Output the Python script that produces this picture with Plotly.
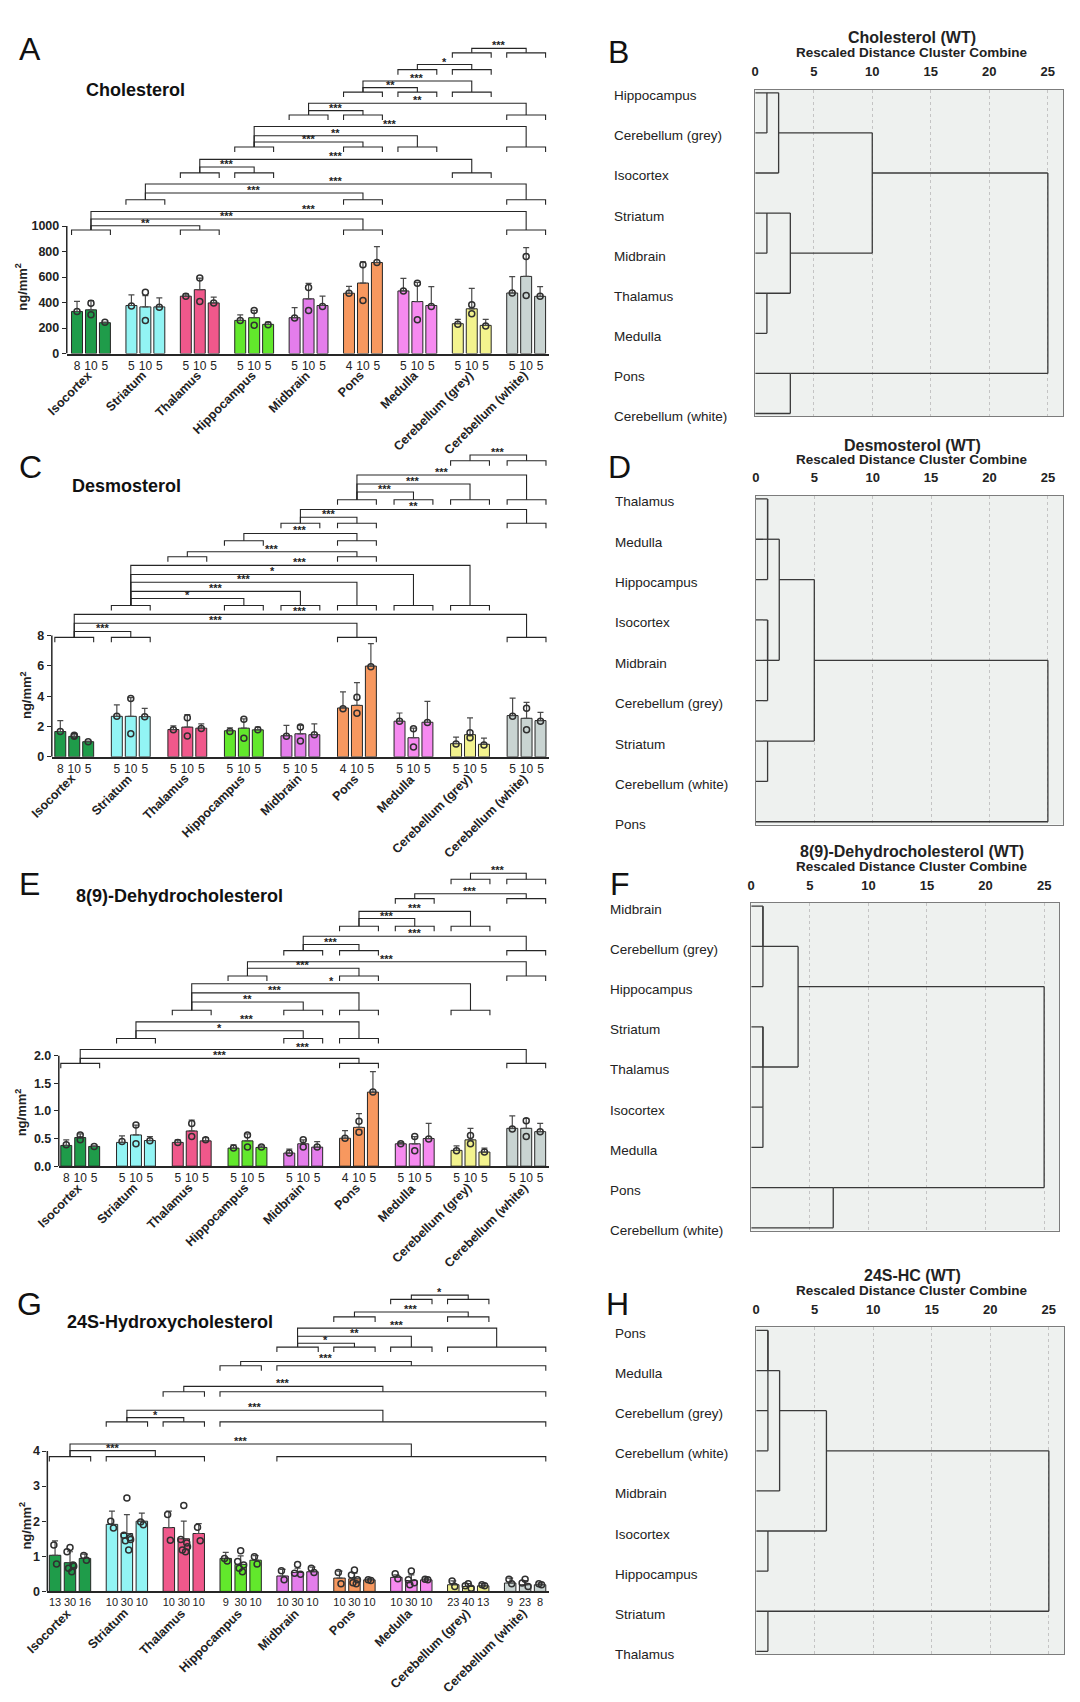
import plotly.graph_objects as go

W, H = 1080, 1702
FONT = "Liberation Sans, Arial, Helvetica, sans-serif"
INK = "#262626"

# ---------------------------------------------------------------- data
REGIONS = ["Isocortex", "Striatum", "Thalamus", "Hippocampus", "Midbrain",
           "Pons", "Medulla", "Cerebellum (grey)", "Cerebellum (white)"]
BAR_COLORS = ["#1f9c4a", "#92f4f4", "#f0588b", "#62e82c", "#e47deb",
              "#f7985f", "#f68af0", "#f3f38e", "#c9d4d2"]

N_STEROL = [[8, 10, 5], [5, 10, 5], [5, 10, 5], [5, 10, 5], [5, 10, 5],
            [4, 10, 5], [5, 10, 5], [5, 10, 5], [5, 10, 5]]
N_24S = [[13, 30, 16], [10, 30, 10], [10, 30, 10], [9, 30, 10], [10, 30, 10],
         [10, 30, 10], [10, 30, 10], [23, 40, 13], [9, 23, 8]]

# A: Cholesterol (ng/mm2)
CHOL_MEAN = [[330, 343, 242], [377, 366, 366], [450, 501, 397], [260, 281, 229], [281, 429, 377],
             [473, 553, 714], [491, 408, 377], [234, 351, 221], [475, 605, 449]]
CHOL_SD = [[80, 72, 5], [83, 89, 70], [18, 91, 45], [44, 57, 18], [80, 122, 73],
           [54, 166, 125], [99, 150, 148], [34, 161, 47], [128, 226, 76]]
CHOL_PTS = [[[330], [395, 304], [245]], [[372], [480, 260], [364]], [[450], [592, 408], [397]],
            [[260], [338, 221], [226]], [[278], [519, 338], [369]], [[473], [696, 416], [714]],
            [[491], [551, 265], [369]], [[229], [382, 312], [216]], [[475], [761, 455], [449]]]

# C: Desmosterol
DESM_MEAN = [[1.67, 1.35, 1.0], [2.67, 2.67, 2.65], [1.8, 1.96, 1.89], [1.72, 1.89, 1.78], [1.39, 1.52, 1.46],
             [3.22, 3.39, 5.98], [2.35, 1.26, 2.28], [0.87, 1.46, 0.83], [2.72, 2.54, 2.39]]
DESM_SD = [[0.72, 0.17, 0.04], [0.76, 1.23, 0.55], [0.24, 0.82, 0.28], [0.19, 0.61, 0.18], [0.68, 0.55, 0.71],
           [1.06, 1.5, 1.48], [0.54, 0.63, 1.37], [0.43, 1.11, 0.41], [1.15, 1.05, 0.54]]
DESM_PTS = [[[1.67], [1.42, 1.36], [1.0]], [[2.67], [3.85, 1.52], [2.65]], [[1.78], [2.57, 1.37], [1.87]],
            [[1.67], [2.48, 1.22], [1.78]], [[1.35], [1.96, 1.04], [1.46]], [[3.17], [3.93, 2.87], [5.93]],
            [[2.35], [1.85, 0.65], [2.26]], [[0.85], [1.59, 1.26], [0.78]], [[2.67], [3.2, 1.78], [2.35]]]

# E: 8(9)-Dehydrocholesterol
DHC_MEAN = [[0.375, 0.518, 0.357], [0.43, 0.565, 0.464], [0.43, 0.637, 0.458], [0.327, 0.458, 0.339],
            [0.238, 0.405, 0.345], [0.506, 0.702, 1.34], [0.405, 0.405, 0.5], [0.286, 0.476, 0.256],
            [0.685, 0.685, 0.625]]
DHC_SD = [[0.10, 0.065, 0.012], [0.118, 0.179, 0.072], [0.046, 0.196, 0.06], [0.06, 0.125, 0.03],
          [0.072, 0.071, 0.10], [0.137, 0.25, 0.37], [0.025, 0.131, 0.274], [0.083, 0.209, 0.071],
          [0.225, 0.178, 0.149]]
DHC_PTS = [[[0.387], [0.565, 0.476], [0.357]], [[0.446], [0.744, 0.405], [0.458]], [[0.43], [0.774, 0.536], [0.476]],
           [[0.327], [0.565, 0.345], [0.345]], [[0.238], [0.476, 0.345], [0.345]], [[0.506], [0.815, 0.613], [1.34]],
           [[0.405], [0.536, 0.28], [0.494]], [[0.28], [0.554, 0.405], [0.256]], [[0.673], [0.821, 0.536], [0.625]]]

# G: 24S-Hydroxycholesterol
HC_MEAN = [[1.03, 0.82, 0.94], [1.91, 1.65, 2.0], [1.82, 1.5, 1.65], [0.94, 0.77, 0.89], [0.44, 0.54, 0.56],
           [0.38, 0.36, 0.33], [0.4, 0.31, 0.33], [0.19, 0.14, 0.16], [0.24, 0.19, 0.19]]
HC_SD = [[0.41, 0.31, 0.12], [0.38, 0.54, 0.23], [0.47, 0.5, 0.28], [0.17, 0.24, 0.13], [0.19, 0.12, 0.13],
         [0.2, 0.16, 0.03], [0.07, 0.16, 0.05], [0.11, 0.08, 0.06], [0.14, 0.12, 0.05]]
HC_PTS = [[[1.32, 0.78], [1.25, 1.13, 0.75, 0.66, 0.56, 0.72], [1.02, 0.89]],
          [[2.0, 1.81], [2.66, 1.6, 1.53, 1.44, 1.18, 1.48], [1.98, 1.9]],
          [[2.19, 1.46], [2.45, 1.48, 1.38, 1.18, 1.13, 1.27], [1.83, 1.44]],
          [[0.94, 0.87], [1.16, 0.85, 0.75, 0.66, 0.56], [0.99, 0.78]],
          [[0.59, 0.33], [0.77, 0.52, 0.49], [0.66, 0.54]],
          [[0.54, 0.22], [0.61, 0.47, 0.33, 0.25, 0.22], [0.33, 0.31]],
          [[0.5, 0.36], [0.58, 0.33, 0.25, 0.19], [0.35, 0.33]],
          [[0.3, 0.14], [0.22, 0.16, 0.09], [0.19, 0.16]],
          [[0.35, 0.22], [0.35, 0.24, 0.14], [0.22, 0.19]]]

# significance brackets: (bracket level, groups bracketed, [(from, to, connector level, label)])
CHOL_SIG = [
    (2359, [7, 8], [(7, 8, 2394, "***")]),
    (2227, [6, 7], [(6, 7, 2267, "*")]),
    (2051, [5, 6, 7], [(5, 7, 2138, "***"), (5, 6, 2086, "**")]),
    (1871, [4, 5, 8], [(4, 8, 1964, "**"), (4, 5, 1906, "***")]),
    (1620, [3, 5, 6, 8], [(3, 8, 1781, "***"), (3, 6, 1708, "**"), (3, 5, 1660, "***")]),
    (1417, [2, 3, 7], [(2, 7, 1523, "***"), (2, 3, 1463, "***")]),
    (1206, [1, 5, 8], [(1, 8, 1330, "***"), (1, 5, 1259, "***")]),
    (969, [0, 2, 5, 8], [(0, 8, 1114, "***"), (0, 5, 1055, "***"), (0, 2, 1003, "**")]),
]
DESM_SIG = [
    (19.50, [7, 8], [(7, 8, 19.88, "***")]),
    (16.93, [5, 6, 7, 8], [(5, 8, 18.56, "***"), (5, 7, 17.97, "***"), (5, 6, 17.44, "***")]),
    (15.38, [4, 5, 8], [(4, 8, 16.29, "**"), (4, 5, 15.78, "***")]),
    (14.23, [3, 5], [(3, 5, 14.71, "***")]),
    (13.18, [2, 5], [(2, 5, 13.51, "***")]),
    (9.97, [1, 3, 4, 5, 6, 7], [(1, 7, 12.61, "***"), (1, 6, 12.01, "*"), (1, 5, 11.50, "***"),
                                (1, 4, 10.90, "***"), (1, 3, 10.43, "*")]),
    (7.87, [0, 1, 5, 8], [(0, 8, 9.38, "***"), (0, 5, 8.80, "***"), (0, 1, 8.26, "***")]),
]
DHC_SIG = [
    (5.19, [7, 8], [(7, 8, 5.30, "***")]),
    (4.84, [6, 8], [(6, 8, 4.93, "***")]),
    (4.34, [5, 6, 7], [(5, 7, 4.61, "***"), (5, 6, 4.48, "***")]),
    (3.90, [4, 5, 8], [(4, 8, 4.16, "***"), (4, 5, 4.01, "***")]),
    (3.44, [3, 5, 8], [(3, 8, 3.70, "***"), (3, 5, 3.58, "***")]),
    (2.82, [2, 4, 5, 7], [(2, 7, 3.30, "*"), (2, 5, 3.135, "***"), (2, 4, 2.97, "**")]),
    (2.31, [1, 4, 5], [(1, 5, 2.61, "***"), (1, 4, 2.45, "*")]),
    (1.86, [0, 5, 8], [(0, 8, 2.11, "***"), (0, 5, 1.95, "***")]),
]
HC_SIG = [
    (8.32, [6, 7], [(6, 7, 8.44, "*")]),
    (7.82, [5, 7], [(5, 7, 7.96, "***")]),
    (6.96, [4, 5, 6, (7, 8)], [(4, (7, 8), 7.50, "***"), (4, 6, 7.27, "**"), (4, 5, 7.07, "*")]),
    (6.43, [3, (4, 8)], [(3, (4, 8), 6.55, "***")]),
    (5.69, [2, (3, 8)], [(2, (3, 8), 5.84, "***")]),
    (4.83, [1, 2, (3, 8)], [(1, (3, 8), 5.16, "***"), (1, 2, 4.95, "*")]),
    (3.84, [0, (1, 2), (4, 8)], [(0, (4, 8), 4.20, "***"), (0, (1, 2), 4.01, "***")]),
]

# dendrograms: leaf order and merges (cluster a, cluster b, rescaled distance)
B_LEAVES = ["Hippocampus", "Cerebellum (grey)", "Isocortex", "Striatum", "Midbrain",
            "Thalamus", "Medulla", "Pons", "Cerebellum (white)"]
B_MERGES = [(0, 1, 1), (3, 4, 1), (5, 6, 1), (9, 2, 2), (10, 11, 3), (7, 8, 3), (12, 13, 10), (15, 14, 25)]
D_LEAVES = ["Thalamus", "Medulla", "Hippocampus", "Isocortex", "Midbrain",
            "Cerebellum (grey)", "Striatum", "Cerebellum (white)", "Pons"]
D_MERGES = [(0, 1, 1), (9, 2, 1), (3, 4, 1), (11, 5, 1), (6, 7, 1), (10, 12, 2), (14, 13, 5), (15, 8, 25)]
F_LEAVES = ["Midbrain", "Cerebellum (grey)", "Hippocampus", "Striatum", "Thalamus",
            "Isocortex", "Medulla", "Pons", "Cerebellum (white)"]
F_MERGES = [(0, 1, 1), (9, 2, 1), (3, 4, 1), (5, 6, 1), (11, 12, 1), (10, 13, 4), (7, 8, 7), (14, 15, 25)]
H_LEAVES = ["Pons", "Medulla", "Cerebellum (grey)", "Cerebellum (white)", "Midbrain",
            "Isocortex", "Hippocampus", "Striatum", "Thalamus"]
H_MERGES = [(0, 1, 1), (2, 3, 1), (9, 10, 1), (11, 4, 2), (5, 6, 1), (12, 13, 6), (7, 8, 1), (14, 15, 25)]
DIST_TICKS = [0, 5, 10, 15, 20, 25]

# ---------------------------------------------------------------- helpers
fig = go.Figure()
ANN = []
SHAPES = []
LAYOUT = {}


def xp(x):
    return x / W


def yp(y):
    return 1 - y / H


def letter(txt, x, y):
    ANN.append(dict(text=txt, x=xp(x), y=yp(y), xref="paper", yref="paper", showarrow=False,
                    xanchor="left", yanchor="middle", font=dict(family=FONT, size=32, color="#111")))


def bar_panel(k, title, means, sds, pts, ns, sig, yticks, yticktext, geom, spread):
    sfx = "" if k == 1 else str(k)
    xa, ya = "x" + sfx, "y" + sfx
    (x0px, x1px, left0, step, bstep, bwpx, nfont, y0, ppu, toppx,
     title_xy, ylab_xy, let_xy, let) = geom
    su = step / bstep
    bw = bwpx / bstep

    def bx(g, j):
        return g * su + j

    xs, ys, es, cols, tv, tt = [], [], [], [], [], []
    for g in range(9):
        for j in range(3):
            xs.append(bx(g, j)); ys.append(means[g][j]); es.append(sds[g][j])
            cols.append(BAR_COLORS[g]); tv.append(bx(g, j)); tt.append(str(ns[g][j]))
    fig.add_trace(go.Bar(x=xs, y=ys, width=bw, xaxis=xa, yaxis=ya, showlegend=False, hoverinfo="skip",
                         marker=dict(color=cols, line=dict(color=INK, width=1)),
                         error_y=dict(type="data", symmetric=False, array=es, arrayminus=[0] * len(es),
                                      color="#4a4a4a", thickness=1.2, width=3)))
    offs_many = [0.0, -0.2, 0.2, -0.1, 0.12, 0.25]
    pxs, pys = [], []
    for g in range(9):
        for j in range(3):
            vals = pts[g][j]
            for i, v in enumerate(vals):
                o = 0.0
                if spread:
                    o = offs_many[i % len(offs_many)] if len(vals) > 2 else (-0.08 if i == 0 else 0.1)
                pxs.append(bx(g, j) + o); pys.append(v)
    fig.add_trace(go.Scatter(x=pxs, y=pys, mode="markers", xaxis=xa, yaxis=ya, showlegend=False,
                             hoverinfo="skip",
                             marker=dict(symbol="circle-open", size=6, color="#303030",
                                         line=dict(width=1.5, color="#303030"))))
    # brackets
    leg = 5.0 / ppu

    def norm(s):
        return s if isinstance(s, tuple) else (s, s)

    def edges(s):
        lo, hi = norm(s)
        return bx(lo, 0) - bw / 2, bx(hi, 2) + bw / 2

    lx, ly = [], []
    for base, groups, comps in sig:
        for s in groups:
            l, r = edges(s)
            lx += [l, l, r, r, None]; ly += [base - leg, base, base, base - leg, None]
        for a, b, lev, lab in comps:
            ca = sum(edges(a)) / 2; cb = sum(edges(b)) / 2
            lx += [ca, ca, cb, cb, None]; ly += [base, lev, lev, base, None]
            ANN.append(dict(text=lab, x=(ca + cb) / 2, y=lev, xref=xa, yref=ya, showarrow=False,
                            xanchor="center", yanchor="middle", yshift=3,
                            font=dict(family=FONT, size=11, color="#222", weight="bold")))
    fig.add_trace(go.Scatter(x=lx, y=ly, mode="lines", xaxis=xa, yaxis=ya, showlegend=False,
                             hoverinfo="skip", line=dict(color=INK, width=1.1)))
    c0 = left0 + bwpx / 2
    LAYOUT["xaxis" + sfx] = dict(domain=[xp(x0px), xp(x1px)],
                                 range=[(x0px - c0) / bstep, (x1px - c0) / bstep],
                                 anchor=ya, showline=True, linecolor=INK, linewidth=1.5, tickvals=tv,
                                 ticktext=tt, ticks="", tickangle=0, showgrid=False, zeroline=False,
                                 tickfont=dict(family=FONT, size=nfont, color="#222"))
    LAYOUT["yaxis" + sfx] = dict(domain=[yp(y0), yp(toppx)], range=[0, (y0 - toppx) / ppu], anchor=xa,
                                 showline=False, tickvals=yticks, ticktext=yticktext, ticks="outside",
                                 ticklen=4, tickwidth=1.3, tickcolor=INK, showgrid=False, zeroline=False,
                                 tickfont=dict(family=FONT, size=12.5, color="#222", weight="bold"))
    SHAPES.append(dict(type="line", xref=xa + " domain", yref=ya, x0=0, x1=0, y0=0, y1=yticks[-1],
                       line=dict(color=INK, width=1.5)))
    for g in range(9):
        ANN.append(dict(text=REGIONS[g], x=bx(g, 1) + 7.0 / bstep, y=yp(y0 + 12), xref=xa, yref="paper",
                        showarrow=False, textangle=-45, xanchor="right", yanchor="top",
                        font=dict(family=FONT, size=12.5, color="#222", weight="bold")))
    ANN.append(dict(text=title, x=xp(title_xy[0]), y=yp(title_xy[1]), xref="paper", yref="paper",
                    showarrow=False, xanchor="left", yanchor="middle",
                    font=dict(family=FONT, size=18, color="#111", weight="bold")))
    ANN.append(dict(text="ng/mm<sup>2</sup>", x=xp(ylab_xy[0]), y=yp(ylab_xy[1]), xref="paper", yref="paper",
                    showarrow=False, textangle=-90, xanchor="center", yanchor="middle",
                    font=dict(family=FONT, size=13, color="#222", weight="bold")))
    letter(let, *let_xy)


def dendro(k, leaves, merges, geom):
    sfx = str(k)
    xa, ya = "x" + sfx, "y" + sfx
    bx0, bx1, by0, by1, labx, t1y, t2y, let_xy, let, title = geom
    n = len(leaves)
    pos = {i: i for i in range(n)}
    xend = {i: 0 for i in range(n)}
    lx, ly = [], []
    for idx, (a, b, d) in enumerate(merges):
        for c in (a, b):
            lx += [xend[c], d, None]; ly += [pos[c], pos[c], None]
        lx += [d, d, None]; ly += [pos[a], pos[b], None]
        new = n + idx
        pos[new] = (pos[a] + pos[b]) // 2
        xend[new] = d
    fig.add_trace(go.Scatter(x=lx, y=ly, mode="lines", xaxis=xa, yaxis=ya, showlegend=False,
                             hoverinfo="skip", line=dict(color="#3a3a3a", width=1.3)))
    LAYOUT["xaxis" + sfx] = dict(domain=[xp(bx0), xp(bx1)], range=[0, 26.3], anchor=ya, side="top",
                                 showline=True, mirror=True, linecolor="#7c7c7c", linewidth=1.4,
                                 tickvals=DIST_TICKS, ticks="outside", ticklen=7,
                                 tickcolor="rgba(0,0,0,0)", showgrid=True, gridcolor="#c4c4c4",
                                 griddash="3px,3px", gridwidth=1, zeroline=False,
                                 tickfont=dict(family=FONT, size=13, color="#222", weight="bold"))
    LAYOUT["yaxis" + sfx] = dict(domain=[yp(by1), yp(by0)], range=[8.07, -0.08], anchor=xa,
                                 showline=True, mirror=True, linecolor="#7c7c7c", linewidth=1.4,
                                 showticklabels=False, ticks="", showgrid=False, zeroline=False)
    SHAPES.append(dict(type="rect", xref=xa + " domain", yref=ya + " domain", x0=0, x1=1, y0=0, y1=1,
                       fillcolor="#eef1ef", line=dict(width=0), layer="below"))
    for i, name in enumerate(leaves):
        ANN.append(dict(text=name, x=xp(labx), y=i, xref="paper", yref=ya, showarrow=False,
                        xanchor="left", yanchor="middle", yshift=-3,
                        font=dict(family=FONT, size=13.5, color="#222")))
    cx = xp(911.7)
    ANN.append(dict(text=title, x=cx, y=yp(t1y), xref="paper", yref="paper", showarrow=False,
                    xanchor="center", yanchor="middle",
                    font=dict(family=FONT, size=16, color="#222", weight="bold")))
    ANN.append(dict(text="Rescaled Distance Cluster Combine", x=cx, y=yp(t2y), xref="paper", yref="paper",
                    showarrow=False, xanchor="center", yanchor="middle",
                    font=dict(family=FONT, size=13.5, color="#222", weight="bold")))
    letter(let, *let_xy)


# ---------------------------------------------------------------- panels
bar_panel(1, "Cholesterol", CHOL_MEAN, CHOL_SD, CHOL_PTS, N_STEROL, CHOL_SIG,
          [0, 200, 400, 600, 800, 1000], ["0", "200", "400", "600", "800", "1000"],
          (63, 547, 67.8, 54.6, 14, 11, 12, 355, 0.128, 35, (80.7, 90), (17, 288), (13, 49), "A"), False)
bar_panel(2, "Desmosterol", DESM_MEAN, DESM_SD, DESM_PTS, N_STEROL, DESM_SIG,
          [0, 2, 4, 6, 8], ["0", "2", "4", "6", "8"],
          (48, 547, 51, 56.75, 14, 11, 12, 760, 15.25, 445, (66.5, 488), (22, 698), (13, 469), "C"), False)
bar_panel(3, "8(9)-Dehydrocholesterol", DHC_MEAN, DHC_SD, DHC_PTS, N_STEROL, DHC_SIG,
          [0, 0.5, 1.0, 1.5, 2.0], ["0.0", "0.5", "1.0", "1.5", "2.0"],
          (55, 547, 57, 55.96, 14, 11, 12, 1171, 55.5, 865, (69.9, 900), (17, 1117), (13, 888), "E"), False)
bar_panel(4, "24S-Hydroxycholesterol", HC_MEAN, HC_SD, HC_PTS, N_24S, HC_SIG,
          [0, 1, 2, 3, 4], ["0", "1", "2", "3", "4"],
          (43.5, 547, 45.5, 57.1, 15, 11.5, 11, 1598, 35.25, 1290, (61.4, 1327), (21, 1532), (11, 1309), "G"),
          True)

dendro(5, B_LEAVES, B_MERGES, (754, 1063, 90, 418, 610, 38, 53, (604, 52), "B", "Cholesterol (WT)"))
dendro(6, D_LEAVES, D_MERGES, (754.7, 1063, 497.7, 828, 611, 447.3, 461, (604, 469), "D", "Desmosterol (WT)"))
dendro(7, F_LEAVES, F_MERGES, (750, 1059.3, 906.7, 1235.7, 606, 855, 870, (606, 888), "F",
                              "8(9)-Dehydrocholesterol (WT)"))
dendro(8, H_LEAVES, H_MERGES, (755, 1064, 1332.7, 1661, 611, 1280.7, 1296, (602, 1309), "H", "24S-HC (WT)"))

fig.update_layout(width=W, height=H, margin=dict(l=0, r=0, t=0, b=0), paper_bgcolor="white",
                  plot_bgcolor="rgba(0,0,0,0)", showlegend=False, annotations=ANN, shapes=SHAPES,
                  font=dict(family=FONT, color="#222"), **LAYOUT)

fig.write_html("out.html", config={"displayModeBar": False},
               post_script="document.body.style.margin='0';document.body.style.overflow='hidden';")
